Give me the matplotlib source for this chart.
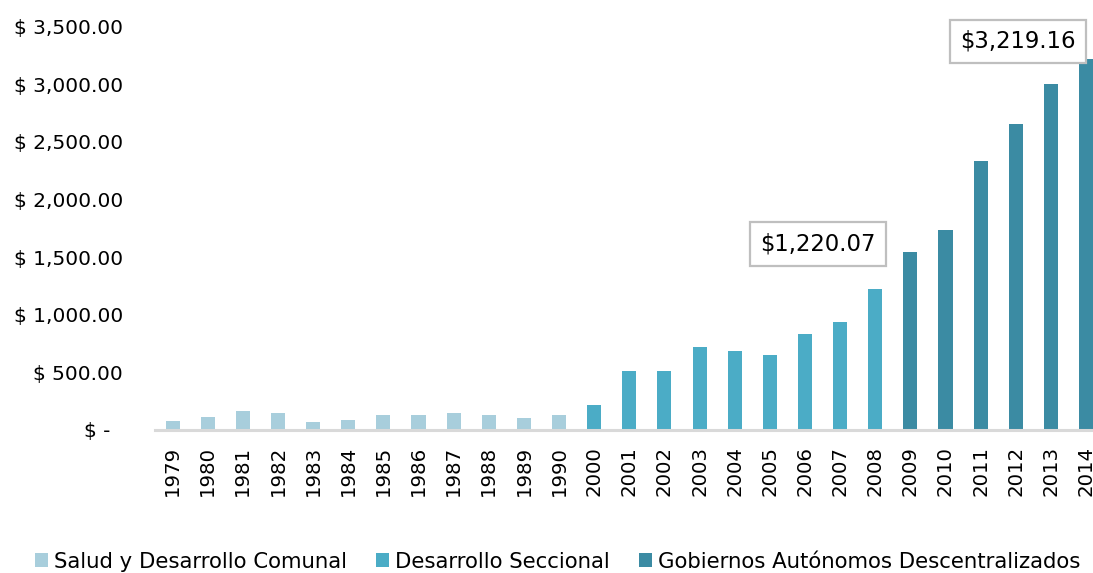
import numpy as np
import matplotlib
matplotlib.use("Agg")
import matplotlib.pyplot as plt
from matplotlib.ticker import FuncFormatter

plt.rcParams['font.family'] = ['DejaVu Sans']

# Data
years_salud = ['1979', '1980', '1981', '1982', '1983', '1984',
               '1985', '1986', '1987', '1988', '1989', '1990']
vals_salud = [70, 107, 159, 144, 66, 87, 124, 124, 144, 124, 104, 124]

years_secc = ['2000', '2001', '2002', '2003', '2004', '2005', '2006', '2007', '2008']
vals_secc = [209, 512, 508, 721, 680, 651, 828, 939, 1220.07]

years_gad = ['2009', '2010', '2011', '2012', '2013', '2014']
vals_gad = [1546, 1733, 2331, 2657, 3008, 3219.16]

series_names = ['Salud y Desarrollo Comunal', 'Desarrollo Seccional',
                'Gobiernos Autónomos Descentralizados']
colors = ['#A8CEDC', '#4BACC6', '#3B8BA3']

labels = years_salud + years_secc + years_gad
x_salud = np.arange(len(years_salud))
x_secc = np.arange(len(years_secc)) + len(years_salud)
x_gad = np.arange(len(years_gad)) + len(years_salud) + len(years_secc)

fig = plt.figure(figsize=(10.93, 5.73), dpi=100)
ax = fig.add_axes([0.1418, 0.2504, 0.8679, 0.7025])

w = 0.40
b1 = ax.bar(x_salud, vals_salud, w, color=colors[0], label=series_names[0])
b2 = ax.bar(x_secc, vals_secc, w, color=colors[1], label=series_names[1])
b3 = ax.bar(x_gad, vals_gad, w, color=colors[2], label=series_names[2])

ax.set_xlim(-0.5, len(labels) - 0.5)
ax.set_ylim(0, 3500)
ax.set_yticks(np.arange(0, 3501, 500))


def money(v, pos):
    if v == 0:
        return '$ -  '
    return '$ {:,.2f}'.format(v)


ax.yaxis.set_major_formatter(FuncFormatter(money))
ax.set_xticks(np.arange(len(labels)))
ax.set_xticklabels(labels, rotation=90)

for s in ['top', 'right', 'left']:
    ax.spines[s].set_visible(False)
ax.spines['bottom'].set_color('#D9D9D9')
ax.spines['bottom'].set_linewidth(2.2)
ax.tick_params(axis='y', length=0, pad=23, labelsize=14.5, labelcolor='#000000')
ax.tick_params(axis='x', length=0, pad=12, labelsize=14.2, labelcolor='#000000')

# Callouts for 2008 and 2014
box = dict(boxstyle='square,pad=0.45', facecolor='white', edgecolor='#BFBFBF', linewidth=1.6)
ax.annotate('${:,.2f}'.format(vals_secc[-1]), xy=(x_secc[-1], vals_secc[-1]),
            xytext=(-57, 45), textcoords='offset pixels', ha='center', va='center',
            fontsize=16.4, bbox=box)
ax.annotate('${:,.2f}'.format(vals_gad[-1]), xy=(x_gad[-1], vals_gad[-1]),
            xytext=(-68, 18), textcoords='offset pixels', ha='center', va='center',
            fontsize=16.4, bbox=box)

fig.legend(handles=[b1, b2, b3], loc='center', bbox_to_anchor=(0.51, 0.02),
           ncol=3, frameon=False, fontsize=15.3, handlelength=0.62,
           handleheight=0.62, handletextpad=0.28, columnspacing=1.37)

fig.savefig('out.png', dpi=100)
